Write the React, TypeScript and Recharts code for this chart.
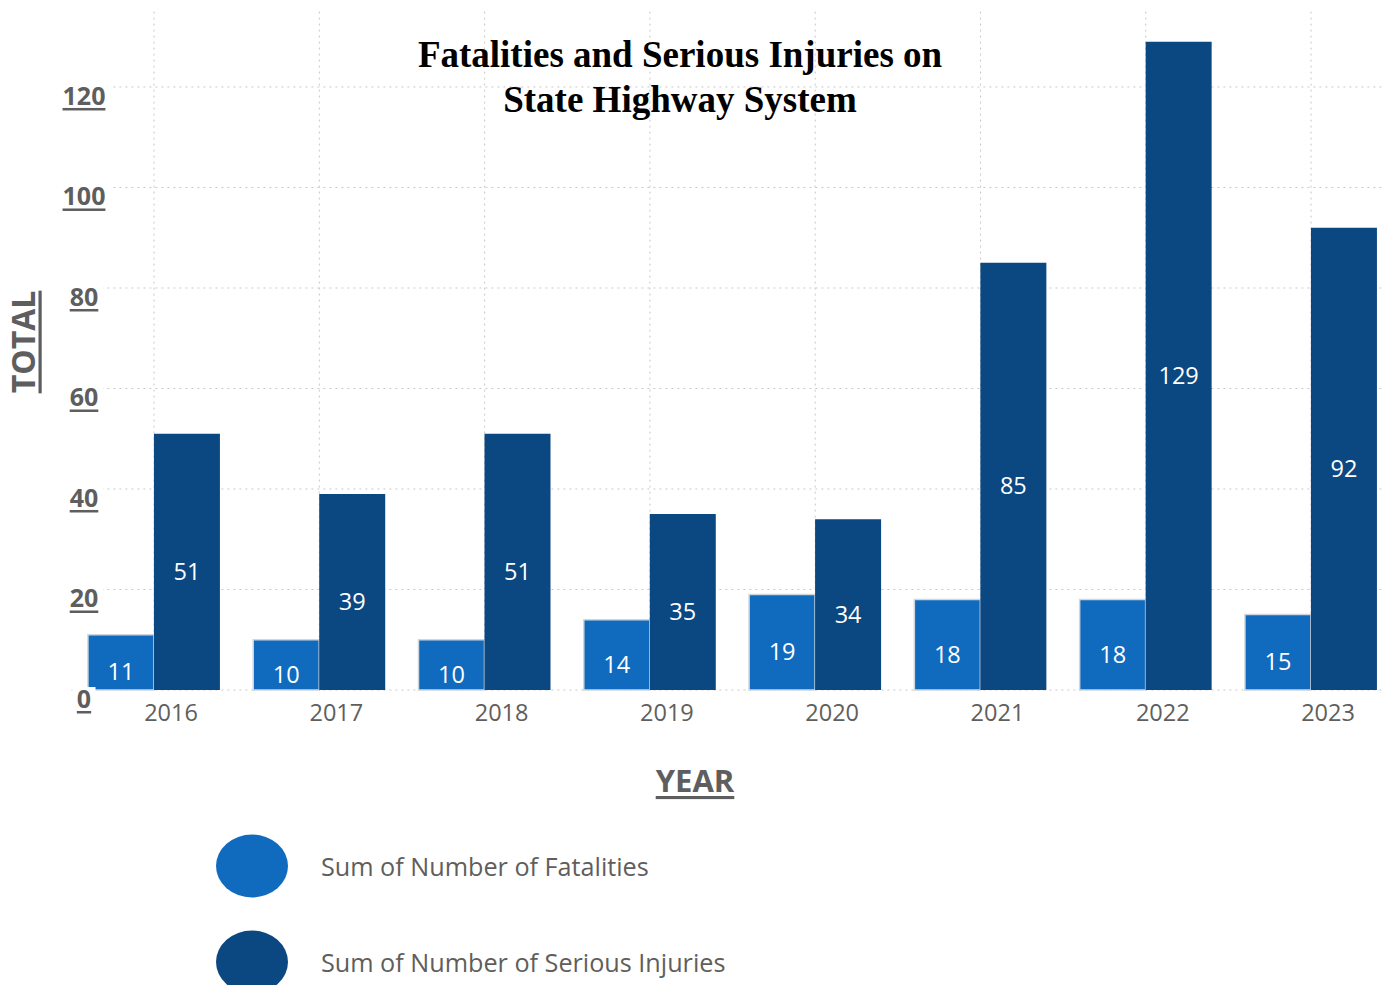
import { BarChart, Bar, XAxis, YAxis, CartesianGrid, Legend, LabelList } from "recharts";

const YEARS = ["2016", "2017", "2018", "2019", "2020", "2021", "2022", "2023"];
const FATALITIES = [11, 10, 10, 14, 19, 18, 18, 15];
const SERIOUS_INJURIES = [51, 39, 51, 35, 34, 85, 129, 92];
const Y_TICKS = [0, 20, 40, 60, 80, 100, 120];

const FATAL_COLOR = "#106BBF";
const INJURY_COLOR = "#0B4780";
const GRAY = "#5E5E5E";
const FONT = "'Open Sans', 'Noto Sans', sans-serif";

const SERIES = [
  { key: "fatalities", name: "Sum of Number of Fatalities", color: FATAL_COLOR },
  { key: "injuries", name: "Sum of Number of Serious Injuries", color: INJURY_COLOR },
];

const data = YEARS.map((year, i) => ({
  year,
  fatalities: FATALITIES[i],
  injuries: SERIOUS_INJURIES[i],
}));

function YTick(props: any) {
  const { y, payload } = props;
  const label = String(payload.value);
  const w = label.length * 15 + 8;
  return (
    <g>
      <rect x={84 - w / 2} y={y - 3} width={w} height={27} fill="#fff" />
      <text
        x={84}
        y={y + 8}
        textAnchor="middle"
        dominantBaseline="central"
        fontFamily={FONT}
        fontSize={25}
        fontWeight={700}
        fill={GRAY}
        textDecoration="underline"
      >
        {label}
      </text>
    </g>
  );
}

function XTick(props: any) {
  const { x, y, payload } = props;
  return (
    <text
      x={x + 17}
      y={y + 14}
      textAnchor="middle"
      dominantBaseline="central"
      fontFamily={FONT}
      fontSize={23.5}
      fill="#605E5C"
    >
      {payload.value}
    </text>
  );
}

function BarValue(props: any) {
  const { x, y, width, height, value } = props;
  return (
    <text
      x={x + width / 2}
      y={y + height / 2 + 9}
      textAnchor="middle"
      dominantBaseline="central"
      fontFamily={FONT}
      fontSize={23.5}
      fill="#ffffff"
    >
      {value}
    </text>
  );
}

function LegendBox() {
  return (
    <div style={{ fontFamily: FONT }}>
      {SERIES.map((s) => (
        <div key={s.key} style={{ display: "flex", alignItems: "center", height: 96 }}>
          <svg width={74} height={64} style={{ marginRight: 32 }}>
            <ellipse cx={37} cy={32} rx={36} ry={31.5} fill={s.color} />
          </svg>
          <span style={{ fontSize: 25.2, color: "#605E5C" }}>{s.name}</span>
        </div>
      ))}
    </div>
  );
}

export default function App() {
  return (
    <div
      style={{
        position: "absolute",
        left: 0,
        top: 0,
        width: 1382,
        height: 985,
        overflow: "hidden",
        background: "#fff",
      }}
    >
      <div
        style={{
          position: "absolute",
          left: 330,
          width: 700,
          top: 32,
          textAlign: "center",
          fontFamily: "'Liberation Serif', 'Times New Roman', serif",
          fontWeight: 700,
          fontSize: 37,
          lineHeight: "45px",
          color: "#000",
          zIndex: 2,
        }}
      >
        Fatalities and Serious Injuries on
        <br />
        State Highway System
      </div>
      <BarChart
        width={1400}
        height={985}
        data={data}
        barCategoryGap="10%"
        barGap={0}
        margin={{ top: 11.6, right: 6.3, bottom: 255, left: 0 }}
      >
        <CartesianGrid stroke="#c8c8c8" strokeDasharray="2 4" strokeWidth={1} syncWithTicks />
        <XAxis
          dataKey="year"
          axisLine={false}
          tickLine={false}
          height={40}
          tick={XTick}
          interval={0}
          label={{
            content: () => (
              <text
                x={695}
                y={780}
                textAnchor="middle"
                dominantBaseline="central"
                fontFamily={FONT}
                fontSize={31}
                fontWeight={700}
                fill={GRAY}
                textDecoration="underline"
              >
                YEAR
              </text>
            ),
          }}
        />
        <YAxis
          width={71.4}
          domain={[0, 135]}
          ticks={Y_TICKS}
          axisLine={false}
          tickLine={false}
          tick={YTick}
          label={{
            content: () => (
              <text
                x={22}
                y={342}
                transform="rotate(-90 22 342)"
                textAnchor="middle"
                dominantBaseline="central"
                fontFamily={FONT}
                fontSize={32}
                fontWeight={700}
                fill={GRAY}
                textDecoration="underline"
              >
                TOTAL
              </text>
            ),
          }}
        />
        <Legend
          verticalAlign="bottom"
          content={LegendBox}
          wrapperStyle={{ position: "absolute", top: 818, left: 215, width: 700, height: 0, overflow: "visible" }}
        />
        <Bar
          dataKey="fatalities"
          name={SERIES[0].name}
          fill={FATAL_COLOR}
          stroke="#cfd6dd"
          strokeWidth={1.5}
          isAnimationActive={false}
        >
          <LabelList dataKey="fatalities" content={BarValue} />
        </Bar>
        <Bar
          dataKey="injuries"
          name={SERIES[1].name}
          fill={INJURY_COLOR}
          isAnimationActive={false}
        >
          <LabelList dataKey="injuries" content={BarValue} />
        </Bar>
      </BarChart>
    </div>
  );
}
